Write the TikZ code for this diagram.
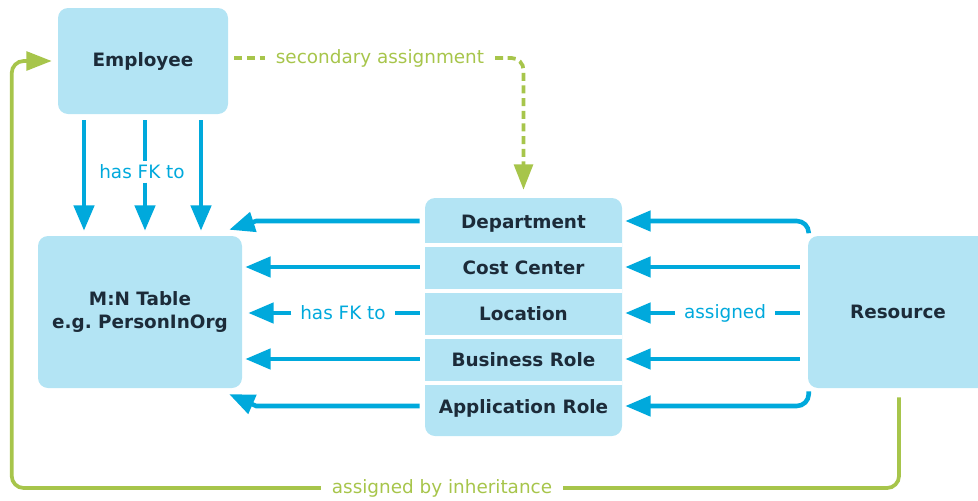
\documentclass[tikz,border=0pt]{standalone}
\usepackage{fontspec}
\setmainfont{DejaVu Sans}
\usetikzlibrary{arrows.meta}
\definecolor{boxfill}{HTML}{B3E4F4}
\definecolor{arrblue}{HTML}{00A9DC}
\definecolor{txt}{HTML}{1C2B39}
\definecolor{grn}{HTML}{A7C54B}
\begin{document}
\begin{tikzpicture}[x=0.75pt,y=-0.75pt,
 box/.style={fill=boxfill, rounded corners=7.5pt, inner sep=0pt, text=txt, font=\bfseries\fontsize{13.8}{17.5}\selectfont, align=center},
 rowlbl/.style={text=txt, font=\bfseries\fontsize{13.8}{17}\selectfont, inner sep=0pt, minimum width=147.75pt, text height=12pt, text depth=1.5pt},
 barrow/.style={draw=arrblue, line width=3.4pt, -{Triangle[length=19pt,width=15pt]}},
 bline/.style={draw=arrblue, line width=3.4pt},
 blbl/.style={text=arrblue, font=\fontsize{13.8}{17}\selectfont, inner ysep=2.5pt, inner xsep=6.5pt},
 glbl/.style={text=grn, font=\fontsize{13.8}{17}\selectfont, inner ysep=2pt, inner xsep=8pt},
 gline/.style={draw=grn, line width=2.8pt},
 garrow/.style={draw=grn, line width=2.8pt, -{Triangle[length=19pt,width=14pt]}},
 gdash/.style={dash pattern=on 6pt off 3.5pt},
 divider/.style={draw=white, line width=2.5pt}
 ]
\useasboundingbox (0,0) rectangle (978,500);
% boxes
\node[box, minimum width=127.5pt, minimum height=79.5pt] (emp) at (143,61) {Employee};
\node[box, minimum width=153pt, minimum height=114pt] (mn) at (140,312) {M:N Table\\e.g.\ PersonInOrg};
\node[box, minimum width=147.75pt, minimum height=178.5pt] (stack) at (523.5,317) {};
\node[box, minimum width=135pt, minimum height=114pt] (res) at (898,312) {Resource};
% rows
\node[rowlbl] (dep) at (523.5,221) {Department};
\node[rowlbl] (cc) at (523.5,267) {Cost Center};
\node[rowlbl] (loc) at (523.5,313) {Location};
\node[rowlbl] (br) at (523.5,359) {Business Role};
\node[rowlbl] (ar) at (523.5,406) {Application Role};
\coordinate (d1) at (523.5,245);
\coordinate (d2) at (523.5,291);
\coordinate (d3) at (523.5,337);
\coordinate (d4) at (523.5,383);
\foreach \d in {d1,d2,d3,d4}{
  \draw[divider] (\d -| stack.west) -- (\d -| stack.east);
}
% employee -> M:N
\node[blbl] (fk1) at (142,172) {has FK to};
\draw[barrow] ([xshift=-44.25pt,yshift=-4.5pt]emp.south) -- ([xshift=-44.25pt,yshift=3.75pt]emp.south |- mn.north);
\draw[bline] ([xshift=1.5pt,yshift=-4.5pt]emp.south) -- ([xshift=1.5pt]emp.south |- fk1.north);
\draw[barrow] ([xshift=1.5pt]emp.south |- fk1.south) -- ([xshift=1.5pt,yshift=3.75pt]emp.south |- mn.north);
\draw[barrow] ([xshift=43.5pt,yshift=-4.5pt]emp.south) -- ([xshift=43.5pt,yshift=3.75pt]emp.south |- mn.north);
% stack -> M:N
\draw[barrow] ([xshift=-3.75pt]dep.west) -- ([xshift=10.5pt]dep.west -| mn.east) -- ([xshift=-9.75pt,yshift=4.5pt]mn.north east);
\draw[barrow] ([xshift=-3.75pt]cc.west) -- ([xshift=2.25pt]cc.west -| mn.east);
\node[blbl] (fk2) at (343,313) {has FK to};
\draw[bline] ([xshift=-3.75pt]loc.west) -- (fk2.east);
\draw[barrow] (fk2.west) -- ([xshift=4.5pt]loc.west -| mn.east);
\draw[barrow] ([xshift=-3.75pt]br.west) -- ([xshift=2.25pt]br.west -| mn.east);
\draw[barrow] ([xshift=-3.75pt]ar.west) -- ([xshift=10.5pt]ar.west -| mn.east) -- ([xshift=-9.75pt,yshift=-4.5pt]mn.south east);
% resource -> stack
\draw[barrow, rounded corners=9pt] ([xshift=0.75pt,yshift=2.25pt]res.north west) |- ([xshift=2.25pt]dep.east);
\draw[barrow] ([xshift=-6pt]cc.east -| res.west) -- ([xshift=2.25pt]cc.east);
\node[blbl] (asg) at (725,313) {assigned};
\draw[bline] ([xshift=-6pt]loc.east -| res.west) -- (asg.east);
\draw[barrow] (asg.west) -- ([xshift=2.25pt]loc.east);
\draw[barrow] ([xshift=-6pt]br.east -| res.west) -- ([xshift=2.25pt]br.east);
\draw[barrow, rounded corners=9pt] ([xshift=0.75pt,yshift=-2.25pt]res.south west) |- ([xshift=2.25pt]ar.east);
% green secondary assignment
\node[glbl] (sa) at (380,58) {secondary assignment};
\draw[gline, gdash] ([xshift=4.5pt,yshift=2.25pt]emp.east) -- (sa.west);
\draw[garrow, gdash, rounded corners=9pt] (sa.east) -| ([yshift=6pt]stack.north);
% green inheritance
\node[glbl] (ai) at (442,488) {assigned by inheritance};
\draw[gline, rounded corners=9pt] ([xshift=0.75pt,yshift=-6.75pt]res.south) |- (ai.east);
\draw[garrow, rounded corners=9pt] (ai.west) -| ([xshift=-34.5pt]emp.west) -- ([xshift=-4.5pt]emp.west);
\end{tikzpicture}
\end{document}
